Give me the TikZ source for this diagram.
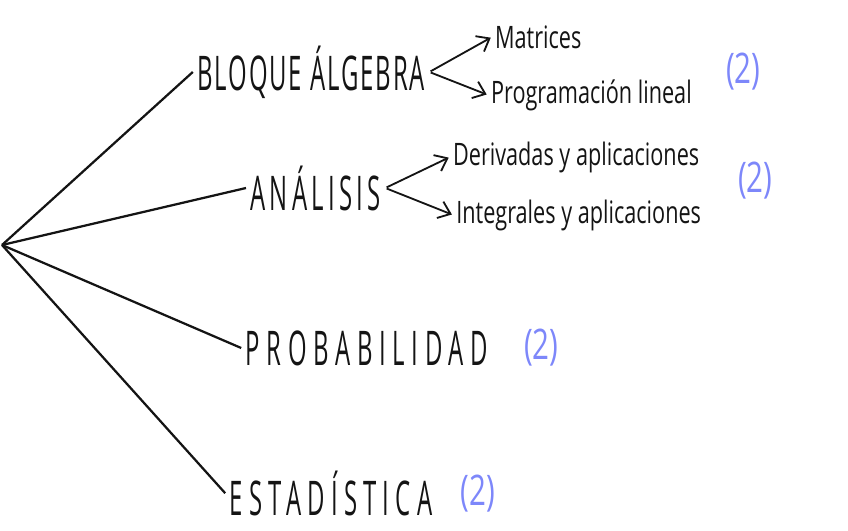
\documentclass[tikz,border=0pt]{standalone}
\usepackage{fontspec}
\usepackage{tikz}
\usetikzlibrary{arrows.meta, positioning}
\newfontfamily\handcaps[FakeStretch=0.5]{Open Sans}
\newfontfamily\handtext[FakeStretch=0.7]{Open Sans}
\definecolor{inkblack}{RGB}{20, 20, 20}
\definecolor{markblue}{RGB}{125, 135, 250}
\tikzset{
  branch/.style={line width=1.6pt, inkblack},
  subarrow/.style={-{Straight Barb[length=2.8mm, width=4.4mm]}, line width=1.3pt, inkblack, shorten >=1pt, shorten <=1pt},
  topic/.style={anchor=west, inner sep=3pt, text=inkblack, font=\handcaps\fontsize{34}{36}\selectfont\addfontfeature{LetterSpace=#1}},
  topic/.default=8,
  subtopic/.style={anchor=west, inner sep=2pt, text=inkblack, font=\handtext\fontsize{22}{24}\selectfont},
  countmark/.style={text=markblue, font=\handtext\fontsize{30}{32}\selectfont}
}
\begin{document}
\begin{tikzpicture}
    \useasboundingbox (0,0) rectangle (21.2,-13.25);

    % starting point on the left
    \coordinate (root) at (0.05,-6.125);

    % main blocks
    \node[topic=4] (bloque) at (4.82,-1.8) {BLOQUE ÁLGEBRA};
    \node[topic=9] (analisis) at (6.15,-4.7) {ANÁLISIS};
    \node[topic=14] (prob) at (6.03,-8.7) {PROBABILIDAD};
    \node[topic=13] (estad) at (5.63,-12.33) {ESTADÍSTICA};

    \draw[branch] (root) -- (bloque.west);
    \draw[branch] (root) -- (analisis.west);
    \draw[branch] (root) -- (prob.west);
    \draw[branch] (root) -- (estad.west);

    % sub topics
    \node[subtopic] (matrices) at (12.3,-0.925) {Matrices};
    \node[subtopic] (progr) at (12.2,-2.375) {Programación lineal};
    \node[subtopic] (deriv) at (11.25,-3.925) {Derivadas y aplicaciones};
    \node[subtopic] (integ) at (11.33,-5.375) {Integrales y aplicaciones};

    \draw[subarrow] (bloque.east) -- (matrices.west);
    \draw[subarrow] (bloque.east) -- (progr.west);
    \draw[subarrow] (analisis.east) -- (deriv.west);
    \draw[subarrow] (analisis.east) -- (integ.west);

    % counts
    \node[countmark] (mbloque) at (18.58,-1.8) {(2)};
    \node[countmark] (manalisis) at (18.88,-4.525) {(2)};
    \node[countmark] (mprob) at (13.53,-8.7) {(2)};
    \node[countmark] (mestad) at (11.95,-12.33) {(2)};
\end{tikzpicture}
\end{document}
